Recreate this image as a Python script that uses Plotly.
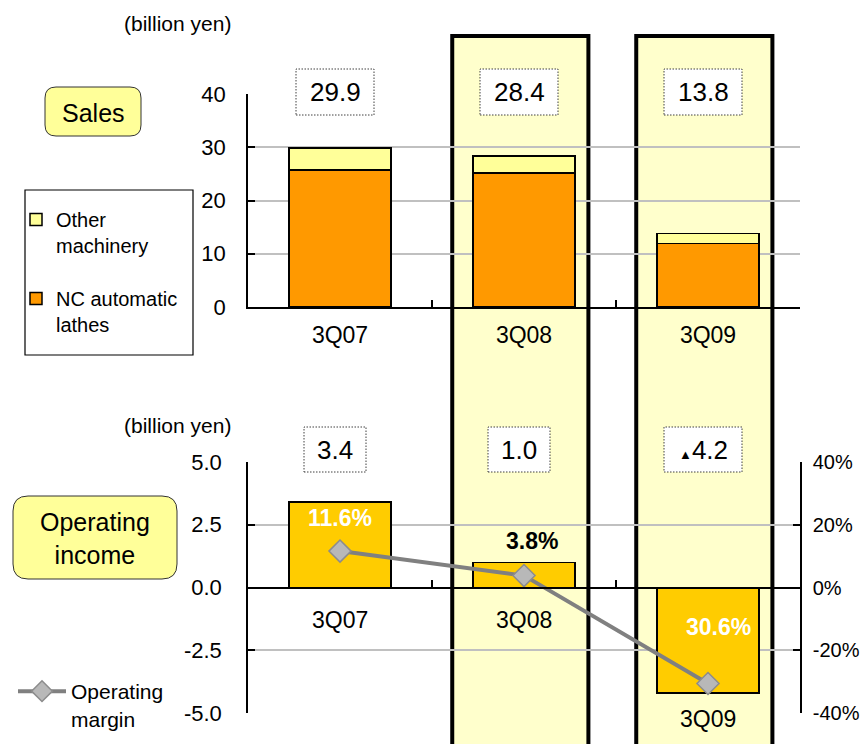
import plotly.graph_objects as go

# ---------------- data ----------------
categories = ["3Q07", "3Q08", "3Q09"]
nc_lathes = [25.7, 25.2, 11.9]          # NC automatic lathes (billion yen)
other_machinery = [4.2, 3.2, 1.9]       # Other machinery (billion yen)
operating_income = [3.4, 1.0, -4.2]     # billion yen
operating_margin = [11.6, 3.8, -30.6]   # %
highlighted = ["3Q08", "3Q09"]

sales_ticks = [0, 10, 20, 30, 40]
income_ticks = [-5, -2.5, 0, 2.5, 5]
income_ticktext = ["-5.0", "-2.5", "0.0", "2.5", "5.0"]
margin_ticks = [-40, -20, 0, 20, 40]
margin_ticktext = ["-40%", "-20%", "0%", "20%", "40%"]

# ---------------- styles ----------------
W, H = 866, 744
FONT = "Liberation Sans, Arial, sans-serif"
ORANGE = "#FF9900"
LIGHT_YELLOW = "#FFFF99"
GOLD = "#FFCC00"
HILITE = "#FFFFCC"
GRID = "#C0C0C0"
TICK_SIZE = 22
CAT_SIZE = 23
VALUE_SIZE = 26
DOT = "1.5px,1.5px"

def px(x):
    return x / W

def py(y):
    return 1 - y / H

xdom = [px(248), px(800)]
top_dom = [py(307), py(94)]
bot_dom = [py(713), py(462)]
sales_range = [sales_ticks[0], sales_ticks[-1]]
inc_range = [income_ticks[0], income_ticks[-1]]

def to_paper(v, rng, dom):
    return dom[0] + (v - rng[0]) / (rng[1] - rng[0]) * (dom[1] - dom[0])

zero_pos = to_paper(0, inc_range, bot_dom)

fig = go.Figure()

fig.add_trace(go.Bar(
    x=categories, y=nc_lathes, name="NC automatic<br>lathes",
    marker=dict(color=ORANGE, line=dict(color="black", width=1.5)),
    xaxis="x", yaxis="y", legend="legend", legendgroup="nc", legendrank=2,
    hoverinfo="skip"))
fig.add_trace(go.Bar(
    x=categories, y=other_machinery, name="Other<br>machinery",
    marker=dict(color=LIGHT_YELLOW, line=dict(color="black", width=1.5)),
    xaxis="x", yaxis="y", legend="legend", legendgroup="other", legendrank=1,
    hoverinfo="skip"))
fig.add_trace(go.Bar(
    x=categories, y=operating_income, name="Operating income",
    marker=dict(color=GOLD, line=dict(color="black", width=1.5)),
    xaxis="x2", yaxis="y2", showlegend=False, hoverinfo="skip"))
fig.add_trace(go.Scatter(
    x=categories, y=operating_margin, name="Operating<br>margin",
    mode="lines+markers",
    line=dict(color="#808080", width=4),
    marker=dict(symbol="diamond", size=17, color="#B8B8B8",
                line=dict(color="#8C8C8C", width=1.5)),
    xaxis="x2", yaxis="y3", legend="legend2", hoverinfo="skip"))

shapes = []
annotations = []

# highlight columns spanning both panels
for cat in highlighted:
    i = categories.index(cat)
    shapes.append(dict(type="rect", xref="x", yref="paper",
                       x0=i - 0.39, x1=i + 0.35, y0=py(770), y1=py(36),
                       fillcolor=HILITE, line=dict(color="black", width=4),
                       layer="below"))

# legend frame
shapes.append(dict(type="rect", xref="paper", yref="paper",
                   x0=px(25), x1=px(193), y0=py(355), y1=py(190),
                   fillcolor="white", line=dict(color="black", width=1.2),
                   layer="below"))

# rounded title boxes
def rrect(w, h, r):
    a, b = w / 2, h / 2
    return (f"M {-a + r},{-b} L {a - r},{-b} Q {a},{-b} {a},{-b + r} "
            f"L {a},{b - r} Q {a},{b} {a - r},{b} L {-a + r},{b} "
            f"Q {-a},{b} {-a},{b - r} L {-a},{-b + r} Q {-a},{-b} {-a + r},{-b} Z")

for cx, cy, w, h, r, text in [(93, 111.5, 96, 49, 11, "Sales"),
                              (95, 537.5, 164, 83, 15, "Operating<br>income")]:
    shapes.append(dict(type="path", xref="paper", yref="paper",
                       xsizemode="pixel", ysizemode="pixel",
                       xanchor=px(cx), yanchor=py(cy), path=rrect(w, h, r),
                       fillcolor=LIGHT_YELLOW, line=dict(color="#333333", width=1)))
    annotations.append(dict(xref="paper", yref="paper", x=px(cx), y=py(cy + 1),
                            xanchor="center", yanchor="middle",
                            text=text, showarrow=False,
                            font=dict(family=FONT, size=25, color="black")))

# unit labels
for yy in (24, 425):
    annotations.append(dict(xref="paper", yref="paper", x=px(177), y=py(yy),
                            xanchor="center", yanchor="middle",
                            text="(billion yen)", showarrow=False,
                            font=dict(family=FONT, size=21, color="black")))

# totals of sales in dotted boxes
for i, cat in enumerate(categories):
    total = nc_lathes[i] + other_machinery[i]
    txt = f"{total:.1f}"
    wbox = 16 * len(txt) + 14
    shapes.append(dict(type="rect", xref="x", yref="paper",
                       xsizemode="pixel", ysizemode="pixel",
                       xanchor=i, yanchor=to_paper(sales_range[1], sales_range, top_dom),
                       x0=-wbox / 2 - 5, x1=wbox / 2 - 5, y0=-21, y1=25,
                       fillcolor="white", line=dict(color="#404040", width=1, dash=DOT)))
    annotations.append(dict(xref="x", yref="y", x=cat, y=sales_range[1],
                            xanchor="center", yanchor="middle",
                            xshift=-5, yshift=2, text=txt, showarrow=False,
                            font=dict(family=FONT, size=VALUE_SIZE, color="black")))

# operating income values in dotted boxes
for i, cat in enumerate(categories):
    v = operating_income[i]
    plain = f"{abs(v):.1f}" if v >= 0 else f"▲{abs(v):.1f}"
    txt = f"{abs(v):.1f}" if v >= 0 else f"<span style='font-size:13px'>▲</span>{abs(v):.1f}"
    wbox = 16 * len(plain) + 14
    shapes.append(dict(type="rect", xref="x2", yref="paper",
                       xsizemode="pixel", ysizemode="pixel",
                       xanchor=i, yanchor=to_paper(inc_range[1], inc_range, bot_dom),
                       x0=-wbox / 2 - 5, x1=wbox / 2 - 5, y0=-10, y1=35,
                       fillcolor="white", line=dict(color="#404040", width=1, dash=DOT)))
    annotations.append(dict(xref="x2", yref="y2", x=cat, y=inc_range[1],
                            xanchor="center", yanchor="middle",
                            xshift=-5, yshift=12, text=txt, showarrow=False,
                            font=dict(family=FONT, size=VALUE_SIZE, color="black")))

# margin labels
margin_colors = ["white", "black", "white"]
margin_yshift = [33, 35, 57]
margin_xshift = [0, 8, 10]
for i, cat in enumerate(categories):
    m = operating_margin[i]
    annotations.append(dict(xref="x2", yref="y3", x=cat, y=m,
                            xanchor="center", yanchor="middle",
                            xshift=margin_xshift[i], yshift=margin_yshift[i],
                            text=f"<b>{abs(m):.1f}%</b>", showarrow=False,
                            font=dict(family=FONT, size=23, color=margin_colors[i])))

# category labels of the lower panel
label_gap = [-32, -32, -26]
for i, cat in enumerate(categories):
    annotations.append(dict(xref="x2", yref="y2", x=cat, y=min(0, operating_income[i]),
                            xanchor="center", yanchor="middle",
                            yshift=label_gap[i], text=cat, showarrow=False,
                            font=dict(family=FONT, size=CAT_SIZE, color="black")))

axis_common = dict(showline=True, linecolor="black", linewidth=1.5,
                   ticks="inside", ticklen=7, tickcolor="black", tickwidth=1.5,
                   automargin=False)

fig.update_layout(
    template="none",
    width=W, height=H, autosize=False,
    margin=dict(l=0, r=0, t=0, b=0, pad=0),
    paper_bgcolor="white", plot_bgcolor="rgba(0,0,0,0)",
    font=dict(family=FONT, size=20, color="black"),
    barmode="stack", bargap=0.445,
    showlegend=True,
    xaxis=dict(domain=xdom, anchor="y", type="category",
               categoryorder="array", categoryarray=categories,
               tickson="boundaries", showgrid=False,
               tickfont=dict(size=CAT_SIZE), ticklabelstandoff=7, **axis_common),
    yaxis=dict(domain=top_dom, anchor="x", range=sales_range,
               tickvals=sales_ticks, showgrid=True, gridcolor=GRID, gridwidth=1.5,
               zeroline=False, tickfont=dict(size=TICK_SIZE), ticklabelstandoff=16,
               **axis_common),
    xaxis2=dict(domain=xdom, anchor="free", position=zero_pos, type="category",
                categoryorder="array", categoryarray=categories,
                tickson="boundaries", showgrid=False, showticklabels=False,
                **axis_common),
    yaxis2=dict(domain=bot_dom, anchor="x2", range=inc_range,
                tickvals=income_ticks, ticktext=income_ticktext,
                showgrid=True, gridcolor=GRID, gridwidth=1.5,
                zeroline=True, zerolinecolor="black", zerolinewidth=1.5,
                tickfont=dict(size=TICK_SIZE), ticklabelstandoff=20, **axis_common),
    yaxis3=dict(overlaying="y2", side="right", anchor="x2", range=[margin_ticks[0], margin_ticks[-1]],
                tickvals=margin_ticks, ticktext=margin_ticktext,
                showgrid=False, zeroline=False,
                tickfont=dict(size=20), ticklabelstandoff=7, **axis_common),
    legend=dict(x=px(16), y=py(200), xanchor="left", yanchor="top",
                bgcolor="rgba(0,0,0,0)", borderwidth=0,
                traceorder="grouped", valign="top", tracegroupgap=24,
                font=dict(family=FONT, size=20, color="black")),
    legend2=dict(x=px(13), y=py(671), xanchor="left", yanchor="top",
                 bgcolor="rgba(0,0,0,0)", valign="top", itemwidth=48,
                 font=dict(family=FONT, size=21, color="black")),
    shapes=shapes, annotations=annotations,
)

fig.write_html("out.html", include_plotlyjs=True,
               config={"displayModeBar": False},
               post_script="document.body.style.margin='0';document.body.style.overflow='hidden';")
